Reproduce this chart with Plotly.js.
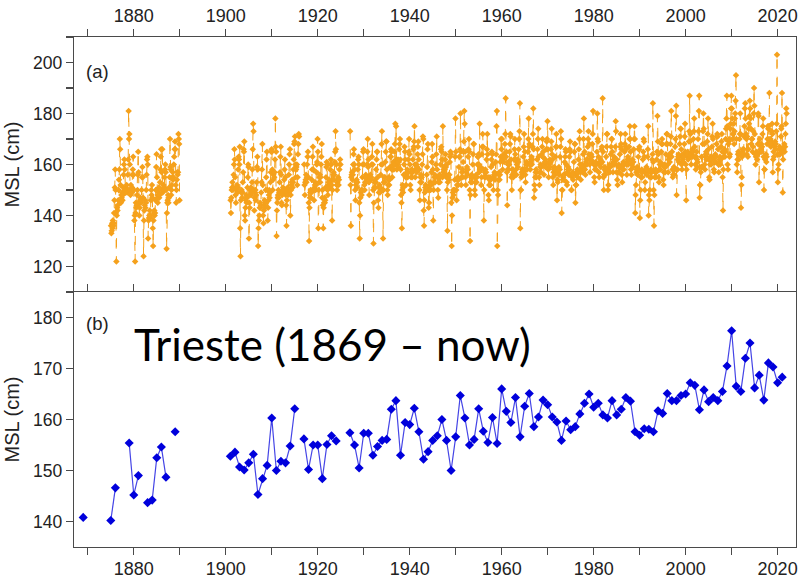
<!DOCTYPE html>
<html>
<head>
<meta charset="utf-8">
<script src="https://cdn.plot.ly/plotly-3.0.1.min.js"></script>
<style>html,body{margin:0;padding:0;background:#fff;}#chart{width:802px;height:579px;}</style>
</head>
<body>
<div id="chart"></div>
<script>
// ---- Data ----
// Panel (b): annual mean sea level, Trieste (cm)
const annualYears = [1869,1875,1876,1879,1880,1881,1883,1884,1885,1886,1887,1889,
  1901,1902,1903,1904,1905,1906,1907,1908,1909,1910,1911,1912,1913,1914,1915,
  1917,1918,1919,1920,1921,1922,1923,1924,
  1927,1928,1929,1930,1931,1932,1933,1934,1935,1936,1937,1938,1939,1940,1941,1942,1943,1944,1945,1946,1947,1948,1949,
  1950,1951,1952,1953,1954,1955,1956,1957,1958,1959,1960,1961,1962,1963,1964,1965,1966,1967,1968,1969,
  1970,1971,1972,1973,1974,1975,1976,1977,1978,1979,1980,1981,1982,1983,1984,1985,1986,1987,1988,1989,
  1990,1991,1992,1993,1994,1995,1996,1997,1998,1999,2000,2001,2002,2003,2004,2005,2006,2007,2008,2009,
  2010,2011,2012,2013,2014,2015,2016,2017,2018,2019,2020,2021];
const annualMSL = [140.8,140.2,146.6,155.4,145.2,149.0,143.7,144.2,152.5,154.6,148.7,157.6,
  152.8,153.6,150.7,150.1,151.5,153.2,145.3,148.4,151.0,160.3,150.0,151.8,151.5,154.8,162.1,
  156.2,150.2,155.0,155.0,148.4,155.1,156.8,155.8,
  157.4,155.0,150.5,157.3,157.3,153.0,154.7,155.9,156.1,162.0,163.7,153.0,159.4,159.0,162.2,157.6,152.2,153.7,155.9,156.8,160.0,155.9,150.0,
  156.6,164.7,160.3,155.0,156.1,162.1,157.7,155.5,160.4,155.3,166.0,161.6,159.4,164.3,156.6,162.6,165.1,158.6,160.5,163.8,
  162.9,160.5,159.5,155.9,159.7,158.0,158.6,161.1,163.2,165.0,162.4,163.2,160.9,160.3,163.7,160.9,162.0,164.3,163.6,157.6,
  156.9,158.2,158.1,157.6,161.7,161.2,165.1,163.7,163.7,164.7,165.0,167.2,166.7,161.9,165.8,163.5,164.3,163.7,165.5,170.5,
  177.4,166.5,165.5,172.0,175.0,166.2,168.7,163.8,171.1,170.3,167.2,168.3];

// Panel (a): monthly mean sea level (cm), Jan..Dec for each year of each block
const monthlyBlockStarts = [1875, 1901, 1917, 1927];
const msl1875to1889 = [
136,133,134,137,135,138,136,137,141,146,151,158,
150,141,122,140,143,142,144,146,150,154,158,170,
166,152,145,148,147,149,146,148,151,156,160,162,
158,150,149,151,150,152,149,150,156,162,181,170,
172,160,150,148,152,150,149,151,156,158,163,156,
150,138,140,122,141,145,143,144,148,150,156,165,
157,145,140,143,146,147,145,146,150,155,159,155,
147,124,138,142,144,146,143,145,150,156,162,163,
160,131,138,139,140,142,139,140,146,150,148,152,
147,135,128,138,141,142,140,141,146,150,159,164,
155,147,145,148,149,151,147,148,153,158,163,166,
157,150,166,149,150,152,150,151,155,158,160,157,
150,127,141,145,146,148,145,147,151,155,170,159,
158,148,150,152,155,157,154,155,160,163,166,169,
166,152,145,150,154,157,156,157,172,170,168,146];
const msl1901to1915 = [
146,141,147,150,151,153,150,151,156,160,166,162,
155,148,145,150,151,152,149,151,158,163,162,160,
167,135,124,146,149,150,147,149,153,157,166,165,
169,140,138,143,146,148,145,147,151,155,160,159,
131,145,143,148,150,151,148,149,153,158,166,176,
173,150,142,147,149,150,146,148,153,159,163,158,
128,135,138,140,143,145,143,144,149,153,158,168,
152,140,137,142,144,146,143,145,150,155,162,165,
150,138,143,146,148,150,147,149,153,157,165,166,
165,158,150,154,156,157,155,157,162,178,167,165,
132,142,145,147,148,150,147,149,153,157,163,167,
156,145,144,148,150,151,149,150,154,158,162,155,
148,144,136,146,149,151,148,150,156,160,164,166,
140,148,150,152,153,154,151,153,158,162,168,169,
171,160,155,158,159,160,152,155,164,168,172,171];
const msl1917to1924 = [
160,152,148,153,154,156,153,155,160,163,165,155,
145,130,143,147,149,150,147,149,154,158,163,167,
158,150,146,151,152,153,150,152,157,160,161,170,
165,135,150,153,155,156,153,155,160,163,168,147,
150,144,135,143,145,147,145,146,151,155,159,161,
160,150,148,152,153,154,151,153,158,160,162,160,
152,138,150,154,156,157,154,156,161,165,173,166,
160,152,150,153,154,155,152,154,158,160,162,160];
const msl1927to2021 = [
173,152,136,155,156,157,154,156,160,164,166,160,
158,150,146,152,153,154,151,153,158,162,163,160,
145,131,140,147,149,150,148,150,155,160,165,166,
160,152,150,153,155,156,153,155,160,165,170,159,
162,153,148,154,155,156,154,155,160,163,168,160,
150,129,145,151,153,154,151,153,158,162,165,165,
155,146,143,149,151,152,149,151,156,160,168,173,
160,150,131,150,153,155,153,155,161,165,169,169,
158,150,148,152,154,155,152,154,159,163,163,166,
165,158,155,158,160,161,158,160,165,168,176,160,
175,162,158,160,161,162,159,161,166,168,170,162,
158,148,145,135,150,152,149,151,156,160,167,165,
162,155,152,156,157,158,155,157,162,165,170,164,
160,152,150,155,157,158,155,157,162,166,167,169,
175,160,155,158,160,160,157,159,164,167,169,162,
158,150,146,153,155,156,153,155,160,164,171,170,
142,136,146,149,151,152,150,151,156,159,166,168,
150,143,145,150,152,153,150,152,157,161,168,163,
158,138,150,153,155,156,153,155,160,164,171,158,
155,150,147,153,155,156,153,155,160,166,167,165,
162,155,175,157,158,159,156,158,162,164,159,155,
160,150,134,153,155,156,154,156,161,163,165,164,
145,128,140,147,149,150,148,150,150,154,163,178,
165,150,146,152,154,155,152,154,159,163,163,166,
180,165,152,155,157,158,155,161,165,169,181,176,
165,155,152,157,158,159,156,158,163,166,170,165,
150,130,148,153,155,156,153,155,160,164,168,168,
155,150,148,153,155,156,153,155,160,163,163,164,
160,157,176,158,159,158,152,155,164,167,172,167,
158,138,150,155,157,158,155,157,162,166,172,164,
155,148,146,152,154,155,152,154,159,162,165,164,
160,155,150,155,156,157,154,156,161,164,175,181,
128,150,148,154,156,157,154,156,161,163,170,166,
170,162,158,162,163,164,161,163,168,172,186,163,
165,157,144,158,160,161,158,160,165,168,172,171,
162,155,150,156,158,158,155,157,162,166,170,164,
162,158,156,160,161,162,159,161,166,170,173,184,
135,150,150,155,157,158,156,158,163,167,172,158,
165,156,153,158,160,161,158,160,165,170,178,167,
168,160,158,161,162,163,160,162,167,172,182,166,
147,152,150,155,157,158,155,157,162,166,170,174,
163,155,152,157,159,160,157,159,164,167,170,163,
165,160,156,160,161,162,159,161,166,169,170,177,
166,158,155,160,161,162,159,161,166,169,174,164,
162,155,152,157,158,159,156,158,163,167,172,167,
146,154,153,157,158,159,156,158,163,167,173,170,
141,150,150,154,155,156,154,156,161,163,166,165,
160,153,152,157,158,159,156,158,163,166,169,165,
156,150,150,155,156,157,154,156,161,165,168,168,
145,152,152,156,157,158,155,157,162,166,170,173,
160,157,154,158,159,160,157,159,164,170,178,158,
165,158,156,160,161,162,160,162,167,170,173,164,
168,160,157,162,163,164,161,163,168,172,181,161,
160,155,153,158,160,161,158,160,165,180,170,169,
163,157,155,160,161,162,159,161,166,167,161,186,
165,155,150,156,158,159,156,158,163,167,172,172,
158,150,152,157,159,160,157,159,164,167,170,170,
165,160,157,161,162,163,160,162,167,177,173,157,
162,154,152,157,159,160,157,159,164,167,172,168,
166,156,153,158,160,161,158,160,165,168,172,167,
166,160,156,161,162,163,160,162,167,170,175,170,
165,158,156,160,161,162,159,161,166,170,175,170,
141,148,152,157,158,159,156,158,163,166,166,167,
139,146,150,155,157,158,155,157,162,165,170,169,
163,150,153,157,158,159,156,158,163,166,175,140,
148,146,150,155,157,158,155,157,162,164,184,161,
150,136,148,155,157,158,155,157,162,165,179,169,
164,155,153,158,160,161,158,160,165,168,170,168,
160,154,152,157,159,160,157,159,164,168,172,172,
168,160,157,162,163,164,161,163,168,171,181,163,
165,158,155,156,158,159,156,158,167,170,179,183,
148,158,158,162,163,164,161,163,168,171,174,174,
166,160,158,162,163,164,161,163,168,171,176,165,
160,146,158,163,164,165,162,164,169,173,187,169,
172,163,160,164,165,166,163,165,170,173,178,167,
163,160,158,163,165,162,159,161,170,173,181,187,
147,152,152,157,159,163,159,159,168,173,180,174,
168,160,158,163,164,165,162,164,169,172,178,166,
162,155,154,160,162,163,160,162,167,171,176,170,
163,158,157,161,163,164,161,163,168,171,172,171,
166,160,157,161,162,163,160,162,167,169,172,165,
155,142,158,163,165,166,163,165,170,174,178,187,
175,160,158,168,169,170,163,164,174,176,182,187,
182,178,170,172,172,176,168,173,178,180,185,195,
170,160,157,162,164,165,162,164,170,172,180,172,
143,152,155,163,165,166,164,166,171,175,182,184,
178,172,170,164,171,166,163,166,174,176,179,185,
182,178,174,168,170,170,165,167,173,180,190,183,
172,164,160,163,164,165,162,164,168,180,179,153,
168,170,165,166,167,168,165,167,172,175,178,163,
150,158,158,162,163,164,161,163,168,170,175,174,
175,170,188,168,169,170,167,168,173,176,172,157,
162,165,163,167,168,169,166,168,173,176,203,164,
153,158,160,164,166,167,164,166,171,174,175,188,
165,149,162,166,167,168,165,167,172,176,182,180];

const xTickVals = [1880,1900,1920,1940,1960,1980,2000,2020];
const panelLabels = ['(a)', '(b)'];
const stationText = 'Trieste (1869 – now)';
const yTitle = 'MSL (cm)';

// ---- Build traces ----
const monthlyBlocks = [msl1875to1889, msl1901to1915, msl1917to1924, msl1927to2021];
const mx = [], my = [];
monthlyBlocks.forEach((vals, b) => {
  if (b > 0) { mx.push(null); my.push(null); }
  vals.forEach((v, i) => {
    mx.push(monthlyBlockStarts[b] + Math.floor(i / 12) + ((i % 12) + 0.5) / 12);
    my.push(v);
  });
});
const ax = [], ay = [];
annualYears.forEach((yr, i) => {
  if (i > 0 && yr - annualYears[i - 1] > 1) { ax.push(null); ay.push(null); }
  ax.push(yr); ay.push(annualMSL[i]);
});

const ORANGE = '#f5a11c';
const traces = [
  {x: mx, y: my, xaxis: 'x2', yaxis: 'y', type: 'scatter', mode: 'lines+markers',
   line: {color: ORANGE, width: 1, dash: 'dash'},
   marker: {symbol: 'diamond', size: 5, color: ORANGE}, connectgaps: false, hoverinfo: 'skip'},
  {x: ax, y: ay, xaxis: 'x', yaxis: 'y2', type: 'scatter', mode: 'lines+markers',
   line: {color: '#4545e6', width: 1.2},
   marker: {symbol: 'diamond', size: 7, color: '#0000dc'}, connectgaps: false, hoverinfo: 'skip'}
];

const FONT = '"Liberation Sans", Arial, Helvetica, sans-serif';
const AXC = '#4a4a4a';
const xTickFont = {family: FONT, size: 18, color: '#222'};
const yTickFont = {family: FONT, size: 17.5, color: '#222'};
const xRange = [1867, 2024];

const layout = {
  width: 802, height: 579,
  margin: {l: 74, r: 6, t: 37, b: 32, pad: 0},
  paper_bgcolor: '#fff', plot_bgcolor: '#fff',
  showlegend: false,
  font: {family: FONT, size: 18, color: '#222'},
  xaxis: {domain: [0, 1], anchor: 'y2', range: xRange, tickvals: xTickVals,
    ticks: 'outside', ticklen: 7, tickwidth: 1.2, tickcolor: AXC, ticklabelstandoff: -2,
    showline: true, linecolor: AXC, linewidth: 1.2, mirror: 'ticks',
    minor: {dtick: 10, tick0: 1870, ticks: 'outside', ticklen: 7, tickwidth: 1.2, tickcolor: AXC},
    showgrid: false, zeroline: false, tickfont: xTickFont},
  xaxis2: {domain: [0, 1], anchor: 'y', side: 'top', range: xRange, tickvals: xTickVals,
    ticks: 'outside', ticklen: 7, tickwidth: 1.2, tickcolor: AXC,
    showline: true, linecolor: AXC, linewidth: 1.2, mirror: false,
    minor: {dtick: 10, tick0: 1870, ticks: 'outside', ticklen: 7, tickwidth: 1.2, tickcolor: AXC},
    showgrid: false, zeroline: false, tickfont: xTickFont},
  yaxis: {domain: [0.5, 1], anchor: 'x2', range: [110, 210], tick0: 0, dtick: 20,
    ticks: 'outside', ticklen: 7, tickwidth: 1.2, tickcolor: AXC,
    showline: true, linecolor: AXC, linewidth: 1.2, mirror: true,
    minor: {dtick: 10, ticks: 'outside', ticklen: 7, tickwidth: 1.2, tickcolor: AXC},
    showgrid: false, zeroline: false, tickfont: yTickFont,
    title: {text: yTitle, font: {family: FONT, size: 20, color: '#222'}, standoff: 8}},
  yaxis2: {domain: [0, 0.5], anchor: 'x', range: [135, 185], tick0: 0, dtick: 10,
    ticks: 'outside', ticklen: 7, tickwidth: 1.2, tickcolor: AXC,
    showline: true, linecolor: AXC, linewidth: 1.2, mirror: true,
    showgrid: false, zeroline: false, tickfont: yTickFont,
    title: {text: yTitle, font: {family: FONT, size: 20, color: '#222'}, standoff: 8}},
  yaxis3: {overlaying: 'y', side: 'right', anchor: 'x2', range: [110, 210], tick0: 0, dtick: 10,
    ticks: 'inside', ticklen: 7, tickwidth: 1.2, tickcolor: AXC, showticklabels: false,
    showline: false, showgrid: false, zeroline: false},
  yaxis4: {overlaying: 'y2', side: 'right', anchor: 'x', range: [135, 185], tick0: 0, dtick: 10,
    ticks: 'inside', ticklen: 7, tickwidth: 1.2, tickcolor: AXC, showticklabels: false,
    showline: false, showgrid: false, zeroline: false},
  annotations: [
    {text: panelLabels[0], xref: 'paper', yref: 'paper', x: 0.0325, y: 0.933,
     xanchor: 'center', yanchor: 'middle', showarrow: false, font: {family: FONT, size: 18.5, color: '#222'}},
    {text: panelLabels[1], xref: 'paper', yref: 'paper', x: 0.0325, y: 0.439,
     xanchor: 'center', yanchor: 'middle', showarrow: false, font: {family: FONT, size: 18.5, color: '#222'}},
    {text: stationText, xref: 'paper', yref: 'paper', x: 0.08, y: 0.398,
     xanchor: 'left', yanchor: 'middle', showarrow: false, font: {family: 'Lato, "Noto Sans", sans-serif', size: 44, color: '#000'}}
  ]
};

Plotly.newPlot('chart', traces, layout, {staticPlot: true, displayModeBar: false});
</script>
</body>
</html>
